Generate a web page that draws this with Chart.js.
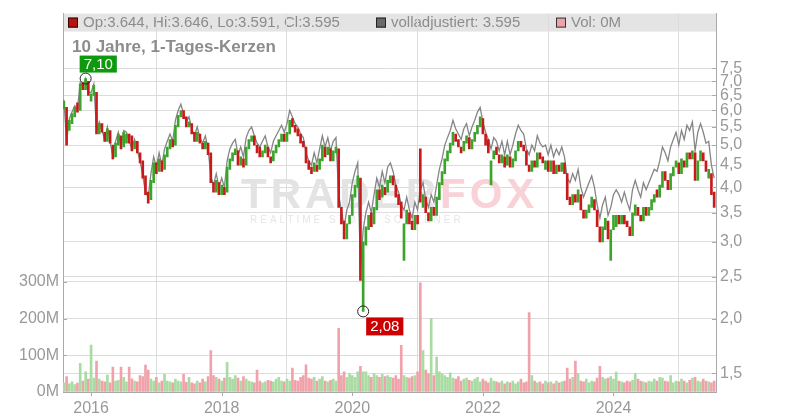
<!DOCTYPE html>
<html>
<head>
<meta charset="utf-8">
<script src="https://cdn.jsdelivr.net/npm/chart.js@4.4.1/dist/chart.umd.min.js"></script>
<style>
    html, body { margin: 0; padding: 0; background: #fff; }
    #wrap { width: 800px; height: 420px; }
</style>
</head>
<body>
<div id="wrap"><canvas id="kursChart" width="800" height="420"></canvas></div>
<script>
// Halbmonatliche Kerzen, Aug 2015 bis Jul 2025
const startYear = 2015;
const startMonth = 7; // 0-basiert: August

const opens = [
    6.05, 6.1, 5.4, 5.6, 5.8, 6.25, 6.0, 6.95, 6.7, 7.0,
    6.3, 6.5, 6.6, 5.3, 5.6, 5.35, 5.1, 5.4, 5.0, 4.7,
    5.0, 5.25, 4.95, 5.05, 5.3, 5.25, 4.9, 5.1, 4.8, 4.6,
    4.25, 3.9, 3.75, 4.1, 4.55, 4.35, 4.6, 4.4, 4.7, 4.9,
    5.15, 5.0, 5.5, 5.8, 6.0, 5.8, 5.5, 5.6, 5.35, 5.1,
    5.3, 5.05, 4.9, 5.05, 4.8, 4.1, 3.9, 4.1, 3.85, 4.0,
    3.9, 4.4, 4.6, 4.75, 4.85, 4.5, 4.65, 4.5, 4.9, 5.1,
    5.25, 5.0, 4.95, 4.7, 4.8, 4.95, 4.7, 4.6, 4.8, 4.95,
    5.1, 5.3, 5.1, 5.3, 5.75, 5.55, 5.45, 5.3, 5.1, 4.95,
    4.6, 4.45, 4.35, 4.5, 4.4, 4.6, 4.95, 4.75, 4.9, 4.6,
    4.8, 4.9, 3.6, 3.35, 3.05, 3.3, 3.45, 3.8, 4.0, 4.2,
    2.08, 2.95, 3.2, 3.5, 3.3, 3.55, 3.95, 3.8, 4.0, 3.9,
    4.1, 4.25, 4.05, 3.85, 3.7, 2.72, 3.3, 3.5, 3.35, 3.2,
    3.45, 4.9, 3.6, 3.8, 3.5, 3.35, 3.6, 3.45, 3.75, 4.05,
    4.3, 4.6, 4.8, 5.0, 5.3, 5.15, 4.95, 4.85, 5.05, 5.2,
    4.9, 5.1, 5.3, 5.5, 5.75, 5.3, 5.15, 4.05, 4.65, 4.95,
    4.75, 4.55, 4.7, 4.5, 4.7, 4.45, 4.6, 4.85, 5.1, 5.0,
    4.85, 4.5, 4.35, 4.6, 4.45, 4.8, 4.7, 4.4, 4.6, 4.35,
    4.6, 4.3, 4.5, 4.35, 4.55, 4.3, 3.8, 3.65, 3.85, 3.7,
    3.85, 3.55, 3.4, 3.5, 3.6, 3.75, 3.55, 3.25, 3.0, 3.2,
    3.35, 2.72, 3.2, 3.25, 3.45, 3.3, 3.45, 3.35, 3.25, 3.1,
    3.45, 3.6, 3.45, 3.35, 3.6, 3.45, 3.55, 3.7, 3.95, 3.8,
    4.0, 4.35, 4.15, 3.95, 4.25, 4.45, 4.55, 4.3, 4.6, 4.45,
    4.8, 4.65, 4.8, 4.15, 4.6, 4.8, 4.6, 4.2, 4.3, 3.9
];
const closes = [
    6.3, 5.0, 5.7, 5.9, 6.1, 5.95, 6.9, 6.7, 7.1, 6.5,
    6.55, 6.85, 5.3, 5.6, 5.35, 5.1, 5.45, 5.05, 4.65, 5.05,
    5.3, 4.9, 5.35, 5.3, 5.05, 4.85, 5.1, 4.8, 4.55, 4.2,
    3.85, 3.68, 4.15, 4.55, 4.3, 4.65, 4.35, 4.75, 4.95, 5.15,
    4.95, 5.55, 5.85, 6.0, 5.75, 5.5, 5.65, 5.3, 5.1, 5.35,
    5.05, 4.9, 5.1, 4.75, 4.1, 3.9, 4.15, 3.85, 4.05, 3.85,
    4.45, 4.65, 4.8, 4.9, 4.5, 4.7, 4.45, 4.95, 5.15, 5.25,
    5.0, 4.8, 4.7, 4.85, 5.0, 4.7, 4.55, 4.85, 5.0, 5.15,
    5.3, 5.1, 5.35, 5.7, 5.5, 5.35, 5.25, 5.05, 4.95, 4.55,
    4.4, 4.3, 4.55, 4.35, 4.65, 5.0, 4.7, 4.95, 4.6, 4.85,
    4.95, 3.6, 3.3, 3.05, 3.3, 3.45, 3.85, 4.05, 4.25, 2.45,
    3.0, 3.25, 3.45, 3.25, 3.6, 3.95, 3.75, 4.05, 3.85, 4.15,
    4.25, 4.05, 3.8, 3.65, 3.4, 3.3, 3.55, 3.3, 3.2, 3.45,
    3.3, 3.7, 3.85, 3.5, 3.35, 3.6, 3.45, 3.8, 4.1, 4.35,
    4.65, 4.85, 5.05, 5.35, 5.1, 4.95, 4.8, 5.1, 5.25, 4.9,
    5.15, 5.35, 5.55, 5.8, 5.3, 5.0, 4.8, 4.6, 4.85, 4.75,
    4.55, 4.75, 4.45, 4.75, 4.45, 4.65, 4.85, 5.1, 4.95, 4.85,
    4.5, 4.35, 4.6, 4.45, 4.8, 4.65, 4.55, 4.6, 4.35, 4.6,
    4.3, 4.5, 4.35, 4.55, 4.3, 3.75, 3.65, 3.85, 3.7, 3.95,
    3.55, 3.4, 3.55, 3.65, 3.8, 3.55, 3.25, 3.0, 3.25, 3.4,
    3.05, 3.2, 3.45, 3.45, 3.3, 3.45, 3.3, 3.25, 3.1, 3.5,
    3.65, 3.45, 3.35, 3.6, 3.45, 3.6, 3.75, 3.85, 3.8, 4.05,
    4.35, 4.15, 3.95, 4.3, 4.45, 4.6, 4.3, 4.65, 4.45, 4.8,
    4.65, 4.85, 4.15, 4.6, 4.85, 4.6, 4.35, 4.4, 3.85, 3.6
];
const adjusted = [
    6.35, 5.1, 5.75, 5.95, 6.15, 6.05, 6.95, 6.8, 7.1, 6.6,
    6.6, 6.9, 5.4, 5.65, 5.4, 5.15, 5.5, 5.1, 4.7, 5.1,
    5.35, 4.95, 5.4, 5.35, 5.1, 4.9, 5.15, 4.85, 4.6, 4.25,
    3.9, 3.8, 4.3, 4.7, 4.45, 4.8, 4.5, 4.9, 5.1, 5.3,
    5.1, 5.7, 6.0, 6.2, 5.9, 5.65, 5.8, 5.45, 5.25, 5.5,
    5.2, 5.05, 5.25, 4.9, 4.25, 4.05, 4.3, 4.0, 4.2, 4.0,
    4.6, 4.9, 5.05, 5.15, 4.75, 4.95, 4.7, 5.2, 5.4, 5.5,
    5.25, 5.05, 4.95, 5.1, 5.25, 4.95, 4.8, 5.1, 5.25, 5.4,
    5.55, 5.35, 5.6, 6.0, 5.8, 5.6, 5.5, 5.3, 5.2, 4.8,
    4.6, 4.5, 4.8, 4.55, 4.9, 5.25, 4.95, 5.2, 4.85, 5.1,
    5.2, 3.85, 3.55, 3.25, 3.55, 3.7, 4.1, 4.35, 4.55, 2.6,
    3.2, 3.5, 3.7, 3.5, 3.85, 4.2, 4.0, 4.35, 4.1, 4.45,
    4.55, 4.35, 4.05, 3.9, 3.65, 3.55, 3.8, 3.55, 3.4, 3.7,
    3.55, 3.95, 4.1, 3.75, 3.6, 3.85, 3.7, 4.05, 4.4, 4.65,
    5.0, 5.2, 5.4, 5.7, 5.45, 5.3, 5.15, 5.45, 5.6, 5.25,
    5.5, 5.7, 5.95, 6.1, 5.65, 5.35, 5.15, 4.9, 5.2, 5.1,
    4.85, 5.1, 4.75, 5.1, 4.75, 5.0, 5.3, 5.55, 5.4, 5.3,
    4.9, 4.75, 5.0, 4.85, 5.25, 5.05, 4.95, 5.0, 4.75, 5.0,
    4.7, 4.9, 4.75, 4.95, 4.7, 4.2, 4.1, 4.3, 4.15, 4.4,
    4.0, 3.8, 3.95, 4.1, 4.25, 4.0, 3.65, 3.4, 3.65, 3.8,
    3.45, 3.6, 3.85, 3.95, 3.85, 3.7, 3.9, 3.7, 3.55, 3.95,
    4.15, 3.95, 3.8, 4.1, 3.95, 4.1, 4.25, 4.4, 4.35, 4.6,
    4.95, 4.8, 4.6, 4.95, 5.15, 5.35, 5.0, 5.4, 5.15, 5.55,
    5.4, 5.65, 4.85, 5.35, 5.6, 5.35, 5.05, 5.1, 4.5, 4.2
];
// Volumen in Mio. Stück
const volumes = [
    25, 42, 22, 28, 20, 24, 78, 30, 55, 35,
    128, 38, 84, 35, 30, 28, 46, 25, 68, 30,
    32, 68, 40, 28, 68, 36, 30, 28, 45, 42,
    73, 60, 35, 30, 40, 25, 30, 48, 30, 28,
    25, 35, 30, 28, 48, 26, 40, 25, 22, 30,
    25, 35, 28, 42, 113, 45, 40, 35, 30, 38,
    81, 40, 35, 45, 38, 30, 42, 35, 30, 28,
    25, 60, 30, 25, 28, 32, 30, 28, 35, 40,
    30, 28, 35, 30, 65, 32, 30, 40, 45, 74,
    38, 35, 40, 30, 35, 42, 30, 28, 32, 35,
    30, 173, 45, 55, 40, 50, 45, 40, 55, 70,
    55, 55, 45, 40, 50, 45, 40, 48, 42, 45,
    40, 38, 45, 35, 127, 45, 40, 38, 42, 45,
    55, 297, 113, 60, 50, 200, 45, 95, 55, 50,
    45, 40, 52, 38, 35, 42, 30, 35, 38, 32,
    30, 35, 40, 28, 35, 30, 25, 38, 30, 28,
    25, 30, 22, 28, 25, 30, 22, 28, 35, 25,
    28, 216, 45, 30, 25, 28, 22, 30, 25, 28,
    22, 30, 25, 28, 30, 65, 35, 40, 84, 51,
    30, 28, 35, 25, 30, 28, 38, 70, 40, 35,
    38, 42, 35, 54, 30, 28, 25, 30, 28, 32,
    50, 35, 30, 28, 25, 30, 28, 35, 30, 40,
    38, 30, 28, 45, 25, 30, 28, 35, 30, 25,
    32, 38, 40, 30, 28, 35, 30, 28, 25, 30
];

const yearTicks = [2016, 2018, 2020, 2022, 2024];
const priceTicks = [1.5, 2.0, 2.5, 3.0, 3.5, 4.0, 4.5, 5.0, 5.5, 6.0, 6.5, 7.0, 7.5];
const volumeTicks = [0, 100, 200, 300];

const chartTitle = '10 Jahre, 1-Tages-Kerzen';
const legendOhlc = 'Op:3.644, Hi:3.646, Lo:3.591, Cl:3.595';
const legendAdj = 'volladjustiert: 3.595';
const legendVol = 'Vol: 0M';

const RED = '#c81a1a';
const GREEN = '#3ba52b';
const VOL_RED = '#f0a2aa';
const VOL_GREEN = '#a9dba2';
const TXT = '#999999';
const GRID = '#dcdcdc';
const AXIS = '#aaaaaa';

Chart.defaults.font.family = '"Liberation Sans", Arial, sans-serif';

// Zeitachse: 1. und 15. jedes Monats
const dates = opens.map((o, i) => startYear + (startMonth + Math.floor(i / 2)) / 12 + (i % 2) * 0.5 / 12);
const isUp = opens.map((o, i) => closes[i] >= o);

const decorPlugin = {
    id: 'decor',
    beforeDraw(chart) {
        const ctx = chart.ctx;
        const area = chart.chartArea;
        ctx.save();
        ctx.fillStyle = '#e4e4e4';
        ctx.fillRect(area.left, area.top, area.right - area.left, 18);
        ctx.font = '15px "Liberation Sans", Arial, sans-serif';
        ctx.textBaseline = 'middle';
        const items = [
            { x: 68, fill: '#b8120f', stroke: '#3a0000', text: legendOhlc },
            { x: 376, fill: '#6a6a6a', stroke: '#222', text: legendAdj },
            { x: 556, fill: '#f0a2aa', stroke: '#333', text: legendVol },
        ];
        items.forEach((it) => {
            ctx.fillStyle = it.fill;
            ctx.fillRect(it.x, area.top + 4, 10, 10);
            ctx.strokeStyle = it.stroke;
            ctx.lineWidth = 1;
            ctx.strokeRect(it.x + 0.5, area.top + 4.5, 9, 9);
            ctx.fillStyle = '#8c8c8c';
            ctx.fillText(it.text, it.x + 15, area.top + 9.5);
        });
        ctx.restore();
    },
    beforeDatasetsDraw(chart) {
        const ctx = chart.ctx;
        ctx.save();
        // Wasserzeichen
        ctx.font = 'bold 42px "Liberation Sans", Arial, sans-serif';
        ctx.letterSpacing = '4px';
        ctx.textBaseline = 'alphabetic';
        ctx.fillStyle = '#e3e3e3';
        ctx.fillText('TRADER', 241, 208);
        const w = ctx.measureText('TRADER').width;
        ctx.fillStyle = '#f9d2d7';
        ctx.fillText('FOX', 241 + w, 208);
        ctx.font = '10px "Liberation Sans", Arial, sans-serif';
        ctx.letterSpacing = '3px';
        ctx.fillStyle = '#e6e6e6';
        ctx.fillText('REALTIME STOCK SCREENER', 250, 223);
        ctx.letterSpacing = '0px';
        // Titel
        ctx.font = 'bold 17px "Liberation Sans", Arial, sans-serif';
        ctx.fillStyle = '#8c8c8c';
        ctx.textBaseline = 'middle';
        ctx.fillText(chartTitle, 72, 47);
        ctx.restore();
    },
    afterDatasetsDraw(chart) {
        const ctx = chart.ctx;
        const xs = chart.scales.x;
        const ps = chart.scales.price;
        let hiIdx = 0, loIdx = 0;
        opens.forEach((o, i) => {
            if (Math.max(o, closes[i]) > Math.max(opens[hiIdx], closes[hiIdx])) hiIdx = i;
            if (Math.min(o, closes[i]) < Math.min(opens[loIdx], closes[loIdx])) loIdx = i;
        });
        const hiVal = Math.max(opens[hiIdx], closes[hiIdx]);
        const loVal = Math.min(opens[loIdx], closes[loIdx]);
        const hx = xs.getPixelForValue(dates[hiIdx]);
        const hy = ps.getPixelForValue(hiVal);
        const lx = xs.getPixelForValue(dates[loIdx]);
        const ly = ps.getPixelForValue(loVal);
        ctx.save();
        ctx.strokeStyle = '#222';
        ctx.lineWidth = 1;
        [[hx, hy], [lx, ly]].forEach(([x, y]) => {
            ctx.beginPath();
            ctx.arc(x, y, 5.5, 0, Math.PI * 2);
            ctx.stroke();
        });
        ctx.font = '15px "Liberation Sans", Arial, sans-serif';
        ctx.textBaseline = 'middle';
        const hiTxt = hiVal.toFixed(2).replace('.', ',');
        const loTxt = loVal.toFixed(2).replace('.', ',');
        let tw = ctx.measureText(hiTxt).width;
        ctx.fillStyle = '#0e990e';
        ctx.fillRect(hx - 6, hy - 23, tw + 8, 17);
        ctx.fillStyle = '#fff';
        ctx.fillText(hiTxt, hx - 2, hy - 14);
        tw = ctx.measureText(loTxt).width;
        ctx.fillStyle = '#cc0000';
        ctx.fillRect(lx + 3, ly + 6, tw + 8, 18);
        ctx.fillStyle = '#fff';
        ctx.fillText(loTxt, lx + 7, ly + 15.5);
        ctx.restore();
    },
    afterDraw(chart) {
        const ctx = chart.ctx;
        const area = chart.chartArea;
        ctx.save();
        ctx.strokeStyle = AXIS;
        ctx.lineWidth = 1;
        ctx.beginPath();
        priceTicks.forEach((v) => {
            const y = Math.round(chart.scales.price.getPixelForValue(v)) + 0.5;
            ctx.moveTo(area.right - 4, y);
            ctx.lineTo(area.right, y);
        });
        volumeTicks.forEach((v) => {
            const y = Math.round(chart.scales.vol.getPixelForValue(v)) + 0.5;
            ctx.moveTo(area.left, y);
            ctx.lineTo(area.left + 4, y);
        });
        yearTicks.forEach((v) => {
            const x = Math.round(chart.scales.x.getPixelForValue(v)) + 0.5;
            ctx.moveTo(x, area.bottom);
            ctx.lineTo(x, area.bottom + 4);
        });
        ctx.stroke();
        ctx.restore();
    },
};

new Chart(document.getElementById('kursChart'), {
    type: 'bar',
    data: {
        datasets: [
            {
                type: 'bar',
                label: 'Kerzen',
                yAxisID: 'price',
                data: dates.map((d, i) => ({ x: d, y: [opens[i], closes[i]] })),
                backgroundColor: isUp.map((up) => (up ? GREEN : RED)),
                barThickness: 2,
                grouped: false,
                order: 1,
            },
            {
                type: 'line',
                label: 'volladjustiert',
                yAxisID: 'price',
                data: dates.map((d, i) => ({ x: d, y: adjusted[i] })),
                borderColor: '#858585',
                borderWidth: 1.3,
                pointRadius: 0,
                tension: 0,
                order: 2,
            },
            {
                type: 'bar',
                label: 'Vol',
                yAxisID: 'vol',
                data: dates.map((d, i) => ({ x: d, y: volumes[i] })),
                backgroundColor: isUp.map((up) => (up ? VOL_GREEN : VOL_RED)),
                barThickness: 2,
                grouped: false,
                order: 3,
            },
        ],
    },
    options: {
        responsive: false,
        animation: false,
        devicePixelRatio: 1,
        layout: { padding: { top: 11, left: 0, right: 0, bottom: 0 } },
        plugins: {
            legend: { display: false },
            tooltip: { enabled: false },
        },
        scales: {
            x: {
                type: 'linear',
                min: 2015.57,
                max: 2025.57,
                offset: false,
                afterBuildTicks: (scale) => { scale.ticks = yearTicks.map((v) => ({ value: v })); },
                afterFit: (scale) => { scale.height = 28; },
                ticks: {
                    autoSkip: false,
                    maxRotation: 0,
                    padding: 7,
                    color: TXT,
                    font: { size: 16 },
                    callback: (v) => String(v),
                },
                grid: { color: GRID, drawTicks: false },
                border: { color: AXIS },
            },
            price: {
                type: 'logarithmic',
                position: 'right',
                min: 1.36,
                max: 10,
                afterBuildTicks: (scale) => { scale.ticks = priceTicks.map((v) => ({ value: v })); },
                afterFit: (scale) => { scale.width = 84; },
                ticks: {
                    autoSkip: false,
                    padding: 4,
                    color: TXT,
                    font: { size: 16 },
                    callback: (v) => Number(v).toFixed(1).replace('.', ','),
                },
                grid: { color: GRID, drawTicks: false },
                border: { color: AXIS },
            },
            vol: {
                type: 'linear',
                position: 'left',
                min: 0,
                max: 1030,
                afterBuildTicks: (scale) => { scale.ticks = volumeTicks.map((v) => ({ value: v })); },
                afterFit: (scale) => { scale.width = 63; },
                ticks: {
                    autoSkip: false,
                    padding: 4,
                    color: TXT,
                    font: { size: 16 },
                    callback: (v) => v + 'M',
                },
                grid: { color: GRID, drawTicks: false },
                border: { color: AXIS },
            },
        },
    },
    plugins: [decorPlugin],
});
</script>
</body>
</html>
